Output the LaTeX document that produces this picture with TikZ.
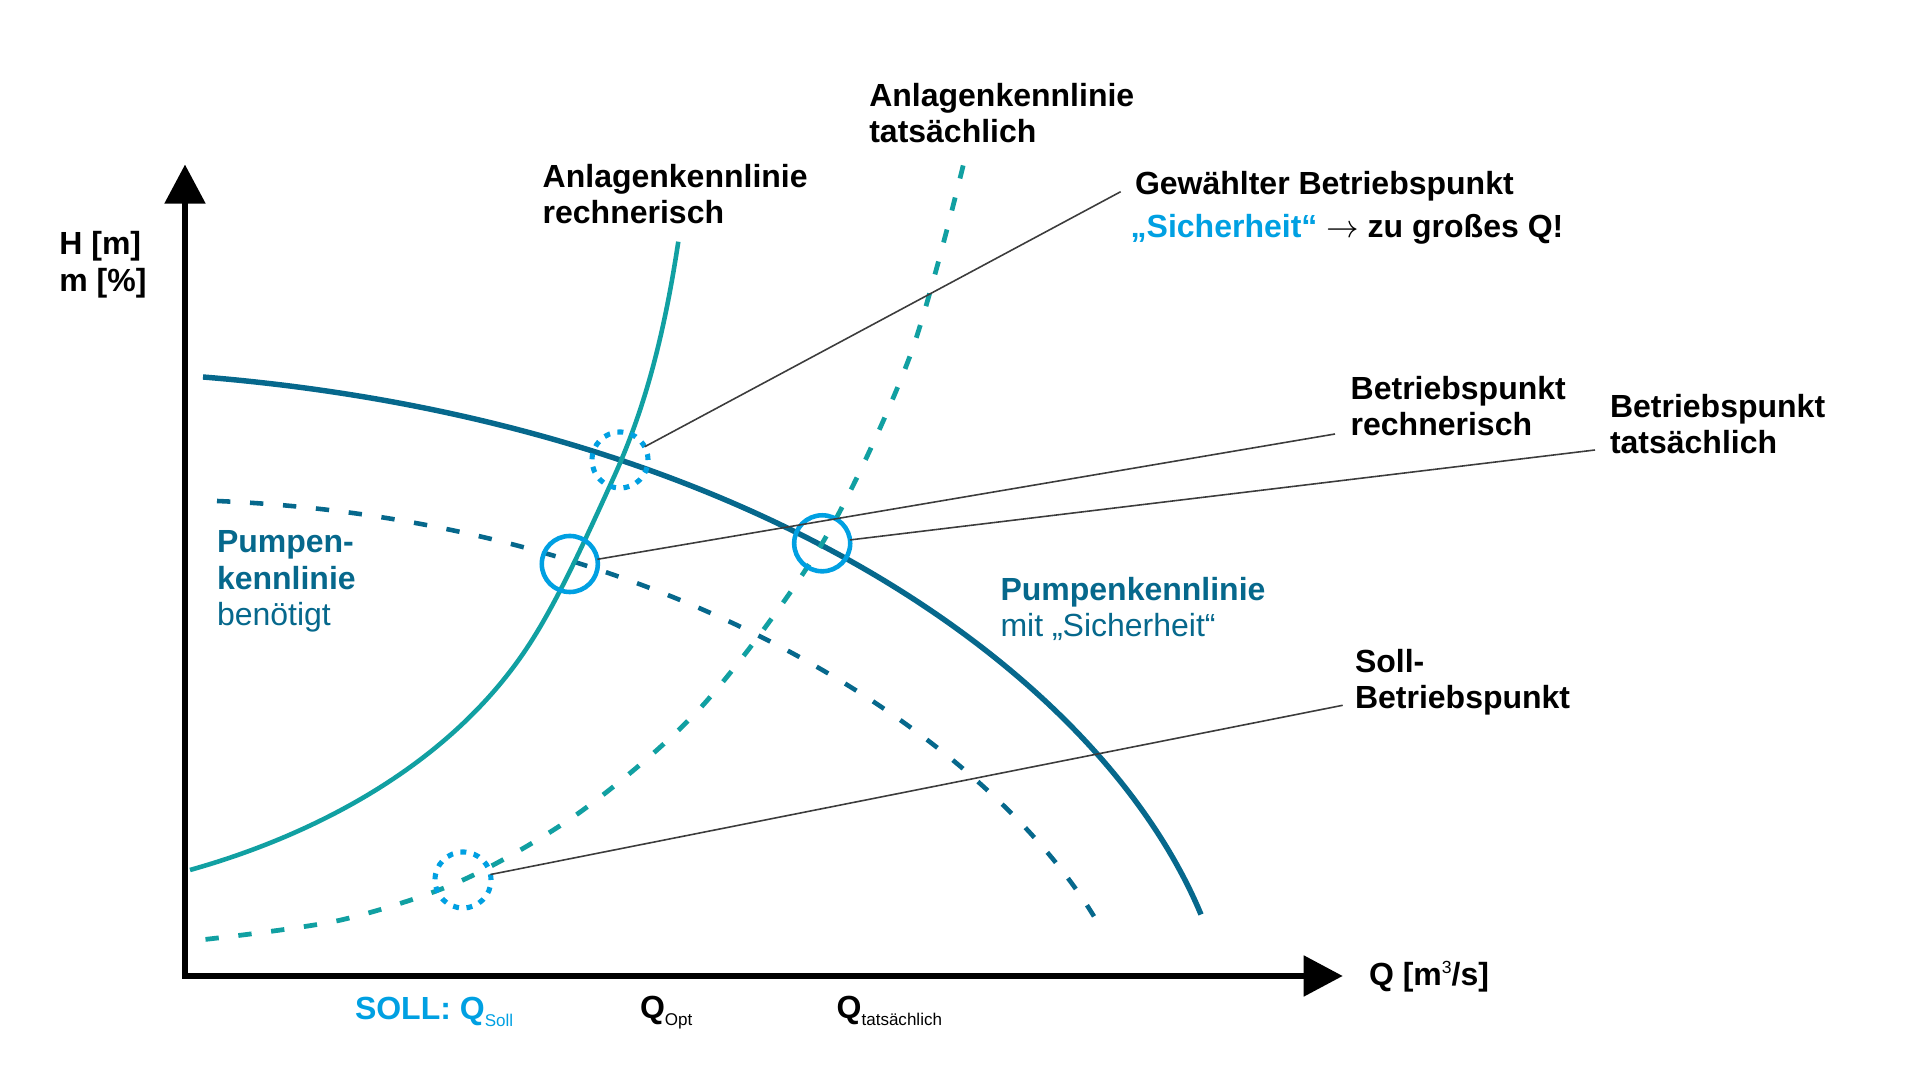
\documentclass[tikz,border=0pt]{standalone}
\usepackage{fontspec}
\setmainfont{Liberation Sans}
\usetikzlibrary{arrows.meta}
\definecolor{pumpblue}{RGB}{6,104,140}
\definecolor{systeal}{RGB}{17,160,162}
\definecolor{markblue}{RGB}{0,160,226}
\definecolor{leadergray}{RGB}{60,60,60}
\newcommand{\subtxt}[1]{{\fontsize{4.84pt}{5pt}\selectfont\mdseries\raisebox{-2pt}{#1}}}
\begin{document}
\begin{tikzpicture}[x=0.01cm,y=-0.01cm,
  txt/.style={font=\fontsize{9.1pt}{10.25pt}\selectfont\bfseries, inner sep=0pt, outer sep=0pt, anchor=base west},
  axisline/.style={line width=1.5pt, black, line join=miter},
  pumpsolid/.style={line width=1.55pt, pumpblue},
  pumpdash/.style={line width=1.3pt, pumpblue, dash pattern=on 3.8pt off 5.6pt},
  syssolid/.style={line width=1.3pt, systeal},
  sysdash/.style={line width=1.35pt, systeal, dash pattern=on 3.8pt off 5.6pt},
  ringsolid/.style={circle, draw=markblue, line width=1.3pt, minimum size=0.56cm, inner sep=0pt, outer sep=0pt},
  ringdot/.style={circle, draw=markblue, line width=1.45pt, dash pattern=on 1.7pt off 2.15pt, minimum size=0.56cm, inner sep=0pt, outer sep=0pt},
  leader/.style={line width=0.45pt, leadergray}]
\useasboundingbox (0,0) rectangle (1920,1080);

% axes
\coordinate (ytip) at (185,164.6);
\coordinate (O) at (185,976);
\coordinate (xtip) at (1342.7,976);
\draw[axisline, {Triangle[length=0.39cm,width=0.4cm]}-{Triangle[length=0.39cm,width=0.4cm]}] (ytip) -- (O) -- (xtip);

% curves
\coordinate (ps0) at (203,377);
\coordinate (ps1) at (1201,914.5);
\draw[pumpsolid] (ps0) .. controls (753,422) and (1101,674.5) .. (ps1);
\coordinate (pd0) at (217,501);
\coordinate (pd1) at (1094,916.4);
\draw[pumpdash] (pd0) .. controls (667,520) and (984,736) .. (pd1);
\coordinate (ss0) at (190,870);
\coordinate (ss1) at (530,643.3);
\coordinate (ss2) at (613.3,478.3);
\coordinate (ss3) at (678.3,241.7);
\draw[syssolid] (ss0) .. controls (310,836.4) and (450,767.3) .. (ss1)
  .. controls (558,599.9) and (585.3,539.9) .. (ss2)
  .. controls (643.3,412.3) and (663.3,340.7) .. (ss3);
\draw[sysdash] plot[smooth] coordinates {(205.5,939.4) (341,920) (463,880) (583,810) (704,704) (822.2,543.3) (910,356) (963.3,165)};

% marker circles
\node[ringdot] (c1) at (620,460) {};
\node[ringsolid] (c2) at (569.8,564) {};
\node[ringsolid] (c3) at (822.2,543.3) {};
\node[ringdot] (c4) at (463,880) {};

% leader ends
\coordinate (lgew) at (1120.7,191.7);
\coordinate (lrech) at (1335,434);
\coordinate (ltats) at (1595,450);
\coordinate (lsoll) at (1342.7,705.3);
\draw[leader] (c1) -- (lgew);
\draw[leader] (c2) -- (lrech);
\draw[leader] (c3) -- (ltats);
\draw[leader] (c4) -- (lsoll);

% axis labels
\node[txt] (hm) at (59.4,255) {H [m]};
\node[txt] (mp) at (59.4,292) {m [\%]};
\node[txt] (qax) at (1369,986) {Q [m{\fontsize{5pt}{5pt}\selectfont\mdseries\raisebox{3.5pt}{3}}/s]};
\node[txt, text=markblue] (qsoll) at (355,1019.3) {SOLL: Q\subtxt{Soll}};
\node[txt] (qopt) at (640,1018.3) {Q\subtxt{Opt}};
\node[txt] (qtat) at (836.7,1018.3) {Q\subtxt{tatsächlich}};

% curve labels
\node[txt] (akr1) at (542.7,187.3) {Anlagenkennlinie};
\node[txt] (akr2) at (542.7,224) {rechnerisch};
\node[txt] (akt1) at (869.3,106.7) {Anlagenkennlinie};
\node[txt] (akt2) at (869.3,142.7) {tatsächlich};
\node[txt] (gew1) at (1135,195) {Gewählter Betriebspunkt};
\node[txt] (gew2) at (1130.7,237.3) {\textcolor{markblue}{„Sicherheit“} $\rightarrow$ zu großes Q!};
\node[txt] (bpr1) at (1350.7,399.3) {Betriebspunkt};
\node[txt] (bpr2) at (1350.7,436) {rechnerisch};
\node[txt] (bpt1) at (1610,417.3) {Betriebspunkt};
\node[txt] (bpt2) at (1610,454) {tatsächlich};
\node[txt, text=pumpblue] (pkb1) at (217,552.8) {Pumpen-};
\node[txt, text=pumpblue] (pkb2) at (217,589.2) {kennlinie};
\node[txt, text=pumpblue, font=\fontsize{9.1pt}{10.25pt}\selectfont\mdseries] (pkb3) at (217,625.5) {benötigt};
\node[txt, text=pumpblue] (pks1) at (1000.5,600.5) {Pumpenkennlinie};
\node[txt, text=pumpblue, font=\fontsize{9.1pt}{10.25pt}\selectfont\mdseries] (pks2) at (1000.5,637) {mit „Sicherheit“};
\node[txt] (sbp1) at (1355,672.6) {Soll-};
\node[txt] (sbp2) at (1355,708.7) {Betriebspunkt};
\end{tikzpicture}
\end{document}
